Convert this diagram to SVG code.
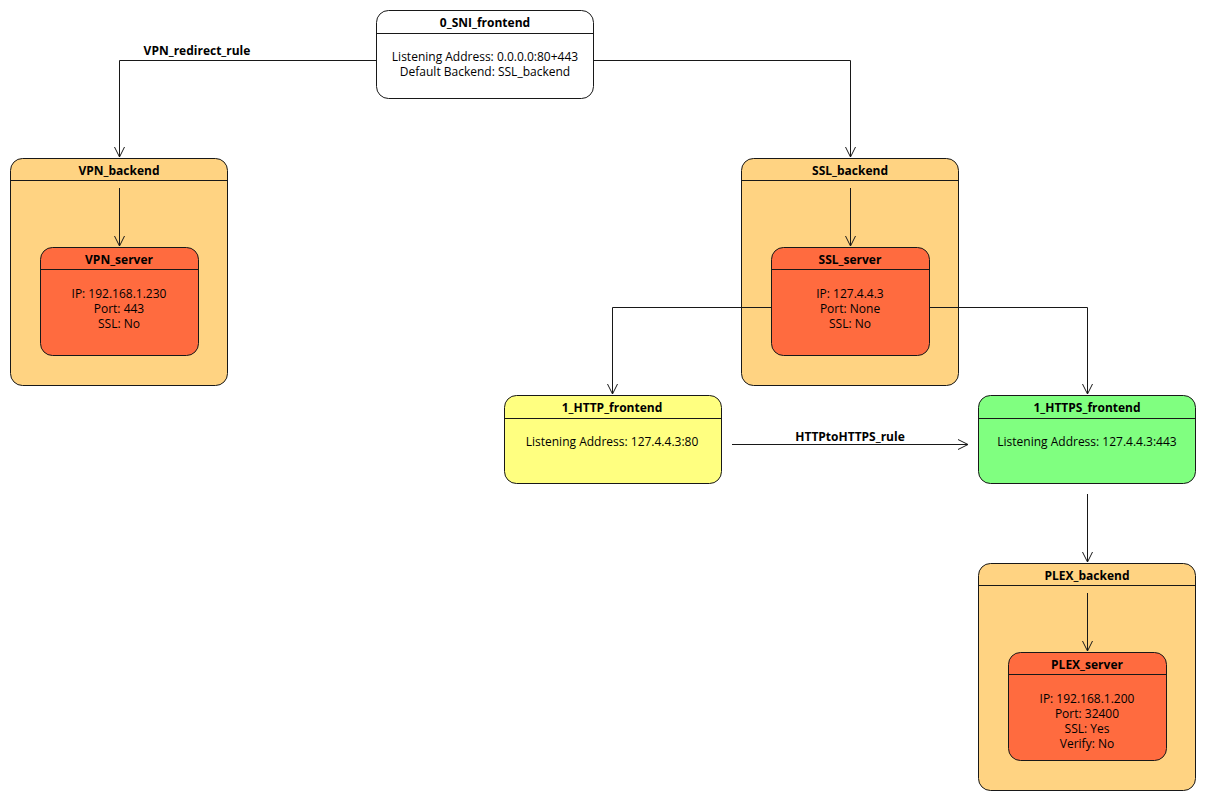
<svg xmlns="http://www.w3.org/2000/svg" width="1205" height="800" viewBox="0 0 1205 800">
<defs>
<style>
.box{stroke:#181818;stroke-width:1}
.sep{stroke:#181818;stroke-width:1}
.t{font-family:"Open Sans","Noto Sans",sans-serif;font-size:12px;fill:#000;text-anchor:middle}
.b{font-weight:bold}
.c{fill:none;stroke:#181818;stroke-width:1}
</style>
<marker id="ar" viewBox="0 0 12 12" refX="11" refY="6" markerWidth="12" markerHeight="12" markerUnits="userSpaceOnUse" orient="auto">
<path d="M1,1 L11,6 L1,11" fill="none" stroke="#181818" stroke-width="1"/>
</marker>
</defs>
<rect width="1205" height="800" fill="#fff"/>

<g id="VPN_backend">
<rect class="box" x="10.5" y="158.5" width="217" height="227" rx="12" fill="#FFD382"/>
<line class="sep" x1="10.5" y1="180.5" x2="227.5" y2="180.5"/>
<text class="t b" x="119" y="175">VPN_backend</text>
</g>
<g id="SSL_backend">
<rect class="box" x="741.5" y="158.5" width="217" height="227" rx="12" fill="#FFD382"/>
<line class="sep" x1="741.5" y1="180.5" x2="958.5" y2="180.5"/>
<text class="t b" x="850" y="175">SSL_backend</text>
</g>
<g id="PLEX_backend">
<rect class="box" x="978.5" y="563.5" width="217" height="227" rx="12" fill="#FFD382"/>
<line class="sep" x1="978.5" y1="585.5" x2="1195.5" y2="585.5"/>
<text class="t b" x="1087" y="580">PLEX_backend</text>
</g>

<g id="connectors">
<path class="c" d="M376,60.5 H119.5 V157" marker-end="url(#ar)"/>
<text class="t b" x="197" y="55">VPN_redirect_rule</text>
<path class="c" d="M593,60.5 H850.5 V157" marker-end="url(#ar)"/>
<path class="c" d="M119.5,188 V246" marker-end="url(#ar)"/>
<path class="c" d="M850.5,188 V246" marker-end="url(#ar)"/>
<path class="c" d="M771,307.5 H612.5 V394" marker-end="url(#ar)"/>
<path class="c" d="M929,307.5 H1087.5 V394" marker-end="url(#ar)"/>
<path class="c" d="M732,444.5 H968" marker-end="url(#ar)"/>
<text class="t b" x="850" y="441">HTTPtoHTTPS_rule</text>
<path class="c" d="M1087.5,494 V562" marker-end="url(#ar)"/>
<path class="c" d="M1087.5,593 V651" marker-end="url(#ar)"/>
</g>

<g id="SNI_frontend">
<rect class="box" x="376.5" y="10.5" width="217" height="88" rx="12" fill="#fff"/>
<line class="sep" x1="376.5" y1="33.5" x2="593.5" y2="33.5"/>
<text class="t b" x="485" y="27">0_SNI_frontend</text>
<text class="t" x="485" y="61">Listening Address: 0.0.0.0:80+443</text>
<text class="t" x="485" y="76">Default Backend: SSL_backend</text>
</g>

<g id="VPN_server">
<rect class="box" x="40.5" y="247.5" width="158" height="108" rx="12" fill="#FF6B3F"/>
<line class="sep" x1="40.5" y1="269.5" x2="198.5" y2="269.5"/>
<text class="t b" x="119" y="264">VPN_server</text>
<text class="t" x="119" y="298">IP: 192.168.1.230</text>
<text class="t" x="119" y="313">Port: 443</text>
<text class="t" x="119" y="328">SSL: No</text>
</g>

<g id="SSL_server">
<rect class="box" x="771.5" y="247.5" width="158" height="108" rx="12" fill="#FF6B3F"/>
<line class="sep" x1="771.5" y1="269.5" x2="929.5" y2="269.5"/>
<text class="t b" x="850" y="264">SSL_server</text>
<text class="t" x="850" y="298">IP: 127.4.4.3</text>
<text class="t" x="850" y="313">Port: None</text>
<text class="t" x="850" y="328">SSL: No</text>
</g>

<g id="HTTP_frontend">
<rect class="box" x="504.5" y="395.5" width="217" height="88" rx="12" fill="#FFFF80"/>
<line class="sep" x1="504.5" y1="418.5" x2="721.5" y2="418.5"/>
<text class="t b" x="612" y="412">1_HTTP_frontend</text>
<text class="t" x="612" y="446">Listening Address: 127.4.4.3:80</text>
</g>

<g id="HTTPS_frontend">
<rect class="box" x="978.5" y="395.5" width="217" height="88" rx="12" fill="#80FF80"/>
<line class="sep" x1="978.5" y1="418.5" x2="1195.5" y2="418.5"/>
<text class="t b" x="1087" y="412">1_HTTPS_frontend</text>
<text class="t" x="1087" y="446">Listening Address: 127.4.4.3:443</text>
</g>

<g id="PLEX_server">
<rect class="box" x="1008.5" y="652.5" width="158" height="108" rx="12" fill="#FF6B3F"/>
<line class="sep" x1="1008.5" y1="674.5" x2="1166.5" y2="674.5"/>
<text class="t b" x="1087" y="669">PLEX_server</text>
<text class="t" x="1087" y="703">IP: 192.168.1.200</text>
<text class="t" x="1087" y="718">Port: 32400</text>
<text class="t" x="1087" y="733">SSL: Yes</text>
<text class="t" x="1087" y="748">Verify: No</text>
</g>
</svg>
